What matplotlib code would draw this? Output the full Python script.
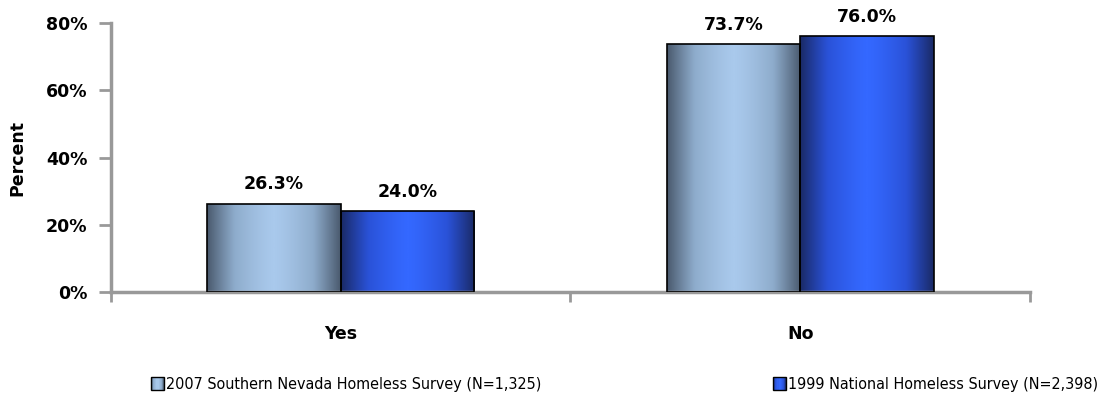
import numpy as np
import matplotlib
matplotlib.use("Agg")
import matplotlib.pyplot as plt
from matplotlib.colors import LinearSegmentedColormap
from matplotlib.patches import Rectangle
from matplotlib.legend_handler import HandlerBase

# données
categories = ["Yes", "No"]
series_names = ["2007 Southern Nevada Homeless Survey (N=1,325)",
                "1999 National Homeless Survey (N=2,398)"]
vals_2007 = [26.3, 73.7]
vals_1999 = [24.0, 76.0]
yticks = [0, 20, 40, 60, 80]

cmaps = [
    LinearSegmentedColormap.from_list("g1", ["#4a5a6e", "#8eaccc", "#a9c9ec"]),
    LinearSegmentedColormap.from_list("g2", ["#1a2a66", "#2a52d8", "#3468ff"]),
]

# profil du dégradé : sombre aux bords, clair au centre
t = np.linspace(0, 1, 200)
grad = 1 - np.abs(2 * t - 1) ** 1.3
grad = grad.reshape(1, -1)

fig = plt.figure(figsize=(11.11, 4.03), dpi=100)
ax = fig.add_axes([0.0999, 0.2754, 0.8272, 0.6675])

width = 0.29
x = np.arange(len(categories))
for i, vals in enumerate([vals_2007, vals_1999]):
    offs = -width / 2 if i == 0 else width / 2
    bars = ax.bar(x + offs, vals, width, facecolor="none", edgecolor="black",
                  linewidth=1.2, zorder=3)
    for b, v in zip(bars, vals):
        x0 = b.get_x()
        im = ax.imshow(grad, cmap=cmaps[i], aspect="auto", extent=(x0, x0 + width, 0, v),
                       zorder=2, interpolation="bilinear")
        im.set_clip_path(b)
        ax.text(x0 + width / 2, v + 3, f"{v:.1f}%", ha="center", va="bottom",
                fontsize=12.5, fontweight="bold")

ax.set_xlim(-0.5, 1.5)
ax.set_ylim(0, 80)
ax.set_yticks(yticks)
ax.set_yticklabels([f"{v}%" for v in yticks], fontsize=12.5, fontweight="bold")
ax.set_xticks([-0.5, 0.5, 1.5])
ax.set_xticklabels([])
ax.set_xticks(x, minor=True)
ax.set_xticklabels(categories, minor=True, fontsize=12.5, fontweight="bold")
ax.tick_params(axis="x", which="minor", length=0, pad=24)
ax.tick_params(axis="x", which="major", length=7, color="#999999", width=2)
ax.tick_params(axis="y", length=9, color="#999999", width=2, pad=8)
for s in ["top", "right"]:
    ax.spines[s].set_visible(False)
for s in ["left", "bottom"]:
    ax.spines[s].set_color("#999999")
    ax.spines[s].set_linewidth(2.5)
ax.set_ylabel("Percent", fontsize=12.5, fontweight="bold", labelpad=14)


class GradHandler(HandlerBase):
    def __init__(self, cmap):
        super().__init__()
        self.cmap = cmap

    def create_artists(self, legend, orig_handle, xdescent, ydescent, width, height, fontsize, trans):
        side = height * 1.15
        n = 12
        arts = []
        for k in range(n):
            tt = (k + 0.5) / n
            c = self.cmap(1 - abs(2 * tt - 1) ** 1.3)
            r = Rectangle((-xdescent + width - side + k * side / n, -ydescent - 1), side / n, side,
                          facecolor=c, edgecolor="none", transform=trans)
            arts.append(r)
        arts.append(Rectangle((-xdescent + width - side, -ydescent - 1), side, side,
                              facecolor="none", edgecolor="black", linewidth=1, transform=trans))
        return arts


h1 = Rectangle((0, 0), 1, 1)
h2 = Rectangle((0, 0), 1, 1)
fig.legend([h1, h2], series_names, loc="center", bbox_to_anchor=(0.561, 0.047), ncol=2,
           frameon=False, prop={"family": "DejaVu Sans", "stretch": "condensed", "size": 11.5},
           handler_map={h1: GradHandler(cmaps[0]), h2: GradHandler(cmaps[1])},
           handlelength=1.0, handletextpad=0.15, columnspacing=14.3)

fig.savefig("out.png", dpi=100)
plt.close()
